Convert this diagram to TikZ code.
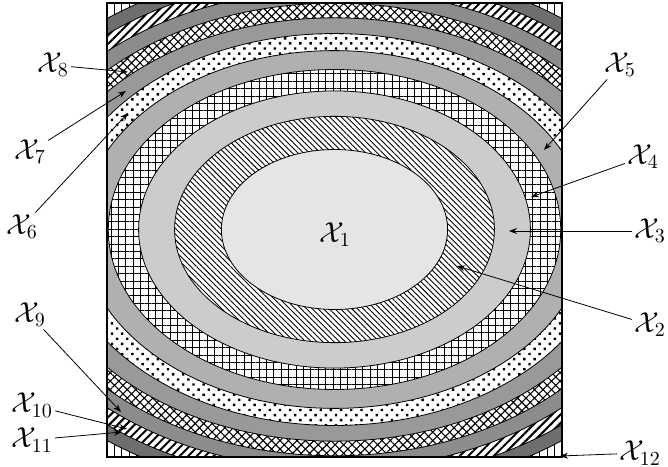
\documentclass[tikz,border=0pt]{standalone}
\usepackage{xcolor}
\usepackage{tikz}
\usetikzlibrary{arrows.meta, patterns.meta}

\begin{document}
\begin{tikzpicture}[
    x=0.5pt, y=0.5pt,
    font=\Large,
    band/.style={draw=black, line width=0.4pt},
    tag/.style={inner sep=1pt},
    pen/.style={-{Stealth[length=4pt, width=3pt]}, line width=0.4pt},
    z1/.style={fill=black!10},
    z2/.style={preaction={fill=white},
               pattern={Lines[angle=-45, distance=2pt, line width=0.45pt]}},
    z3/.style={fill=black!20},
    z4/.style={preaction={fill=white},
               pattern={Hatch[angle=0, distance=3.7pt, line width=0.45pt]}},
    z5/.style={fill=black!31},
    z6/.style={preaction={fill=white},
               pattern={Dots[angle=45, distance=3.6pt, radius=0.85pt]}},
    z7/.style={fill=black!40},
    z8/.style={preaction={fill=white},
               pattern={Hatch[angle=45, distance=3pt, line width=0.55pt]}},
    z9/.style={fill=black!45},
    z10/.style={preaction={fill=white},
                pattern={Lines[angle=45, distance=3pt, line width=1pt]}},
    z11/.style={fill=black!57}
  ]
    \useasboundingbox (0,0) rectangle (668,466);
    \coordinate (pusat) at (334.5,236.5);

    % the square with its rings, largest first
    \begin{scope}
      \clip (107,9) rectangle (562,463);
      \fill[white] (107,9) rectangle (562,463);
      \fill[pattern={Lines[angle=90, distance=3.8pt, line width=0.5pt]}]
        (107,9) rectangle (562,463);
      \foreach \k in {11,10,...,1}{
        \pgfmathsetmacro{\rx}{113.1*sqrt(\k)}
        \pgfmathsetmacro{\ry}{80*sqrt(\k)}
        \draw[band, z\k] (pusat) ellipse [x radius=\rx, y radius=\ry];
      }
    \end{scope}
    \draw[line width=0.6pt] (107,9) rectangle (562,463);

    % labels
    \node[tag] (x1) at (335,231) {$\mathcal{X}_{1}$};
    \node[tag] (x2) at (650,141) {$\mathcal{X}_{2}$};
    \node[tag] (x3) at (650,235) {$\mathcal{X}_{3}$};
    \node[tag] (x4) at (643,309) {$\mathcal{X}_{4}$};
    \node[tag] (x5) at (620,401) {$\mathcal{X}_{5}$};
    \node[tag] (x6) at (22,239) {$\mathcal{X}_{6}$};
    \node[tag] (x7) at (30,314) {$\mathcal{X}_{7}$};
    \node[tag] (x8) at (53,401) {$\mathcal{X}_{8}$};
    \node[tag] (x9) at (30,151) {$\mathcal{X}_{9}$};
    \node[tag] (x10) at (32,61) {$\mathcal{X}_{10}$};
    \node[tag] (x11) at (32,26) {$\mathcal{X}_{11}$};
    \node[tag] (x12) at (640,13) {$\mathcal{X}_{12}$};

    % arrow ends
    \coordinate (t2) at (457,200);
    \coordinate (t3) at (509,235);
    \coordinate (t4) at (531,269);
    \coordinate (t5) at (544,316);
    \coordinate (t6) at (128,353);
    \coordinate (t7) at (126,375);
    \coordinate (t8) at (128,394);
    \coordinate (t9) at (121,54);
    \coordinate (t10) at (127,37);
    \coordinate (t11) at (122,34);
    \coordinate (t12) at (560,10);

    \foreach \k in {2,...,12}
      \draw[pen] (x\k) -- (t\k);
\end{tikzpicture}
\end{document}
